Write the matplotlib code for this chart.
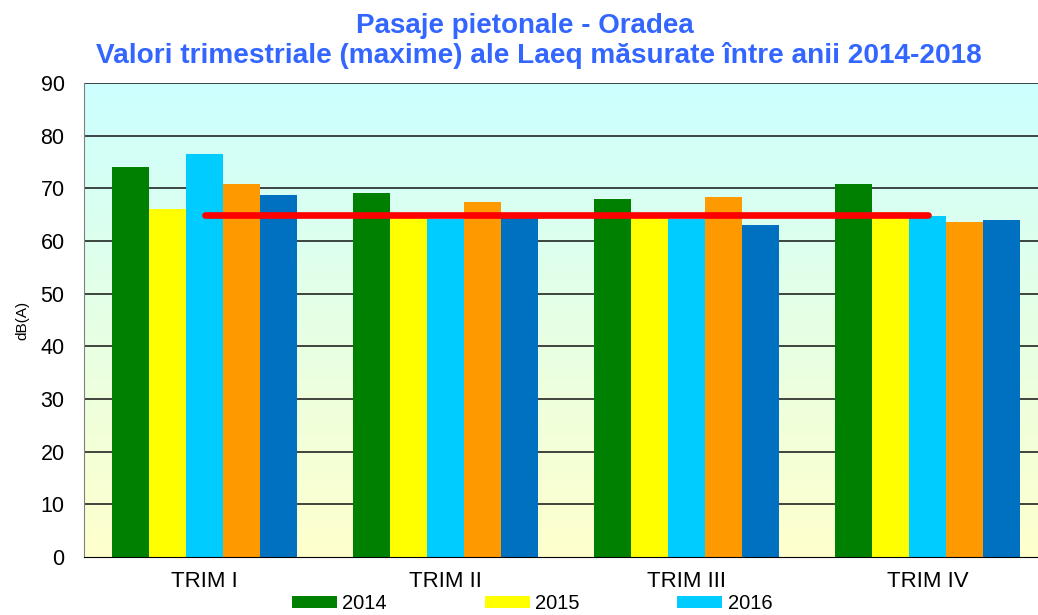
import numpy as np
import matplotlib
matplotlib.use("Agg")
import matplotlib.pyplot as plt
from matplotlib.colors import LinearSegmentedColormap

plt.rcParams['font.family'] = ['Liberation Sans', 'DejaVu Sans']

categories = ["TRIM I", "TRIM II", "TRIM III", "TRIM IV"]
years = ["2014", "2015", "2016", "2017", "2018"]
v2014 = [74.0, 69.1, 67.9, 70.8]
v2015 = [66.0, 65.0, 65.0, 65.6]
v2016 = [76.5, 64.1, 64.2, 64.8]
v2017 = [70.8, 67.5, 68.3, 63.6]
v2018 = [68.7, 65.0, 63.1, 63.9]
limit = [65, 65, 65, 65]
series = [v2014, v2015, v2016, v2017, v2018]
colors = ["#008000", "#FFFF00", "#00CCFF", "#FF9900", "#0070C0"]

W, H = 1038, 615
fig = plt.figure(figsize=(W / 100, H / 100), dpi=100)
ax = fig.add_axes([84 / W, 58 / H, 964 / W, 474 / H])

x = np.arange(len(categories))
bw = 0.154
handles = []
for j, (vals, c, yr) in enumerate(zip(series, colors, years)):
    b = ax.bar(x + (j - 2) * bw, vals, width=bw, color=c, label=yr, zorder=3,
               edgecolor='none')
    handles.append(b)

ax.plot(x, limit, color="#FF0000", lw=4.8, solid_capstyle='round', zorder=4)

ax.set_xlim(-0.5, 3.5)
ax.set_ylim(0, 90)
ax.set_yticks(np.arange(0, 91, 10))
ax.set_xticks(x)
ax.set_xticklabels(categories)
ax.tick_params(axis='y', length=0, pad=14, labelsize=15.5)
ax.tick_params(axis='x', length=0, pad=10, labelsize=16)
for yv in range(10, 91, 10):
    ax.axhline(yv, color="#111111", lw=1.1, zorder=1)
ax.set_ylabel("dB(A)", fontsize=11, labelpad=8)

# gradient background
cmap = LinearSegmentedColormap.from_list("bg", ["#FFFFCC", "#CCFFFF"])
grad = np.linspace(0, 1, 256).reshape(-1, 1)
ax.imshow(grad, cmap=cmap, aspect='auto', extent=[0, 1, 0, 1],
          transform=ax.transAxes, origin='lower', zorder=0)

for s in ['top', 'right']:
    ax.spines[s].set_visible(False)
ax.spines['left'].set_color('#808080')
ax.spines['bottom'].set_color('#000000')
ax.spines['bottom'].set_zorder(5)

tcol = "#3366FF"
fig.text(525 / W, 1 - 33 / H, "Pasaje pietonale - Oradea", ha='center',
         va='baseline', fontsize=20, fontweight='bold', color=tcol)
fig.text(539 / W, 1 - 63 / H,
         "Valori trimestriale (maxime) ale Laeq măsurate între anii 2014-2018",
         ha='center', va='baseline', fontsize=20.2, fontweight='bold', color=tcol)

# only the first legend row (2014-2016) is visible in the reference crop
fig.legend(handles[:3], years[:3],
           loc='upper left', bbox_to_anchor=(292 / W, 1 - 594 / H), ncol=3,
           frameon=False, fontsize=14.5, handlelength=2.25, handleheight=0.6,
           handletextpad=0.25, columnspacing=4.85, borderpad=0, borderaxespad=0)

fig.savefig("out.png", dpi=100)
